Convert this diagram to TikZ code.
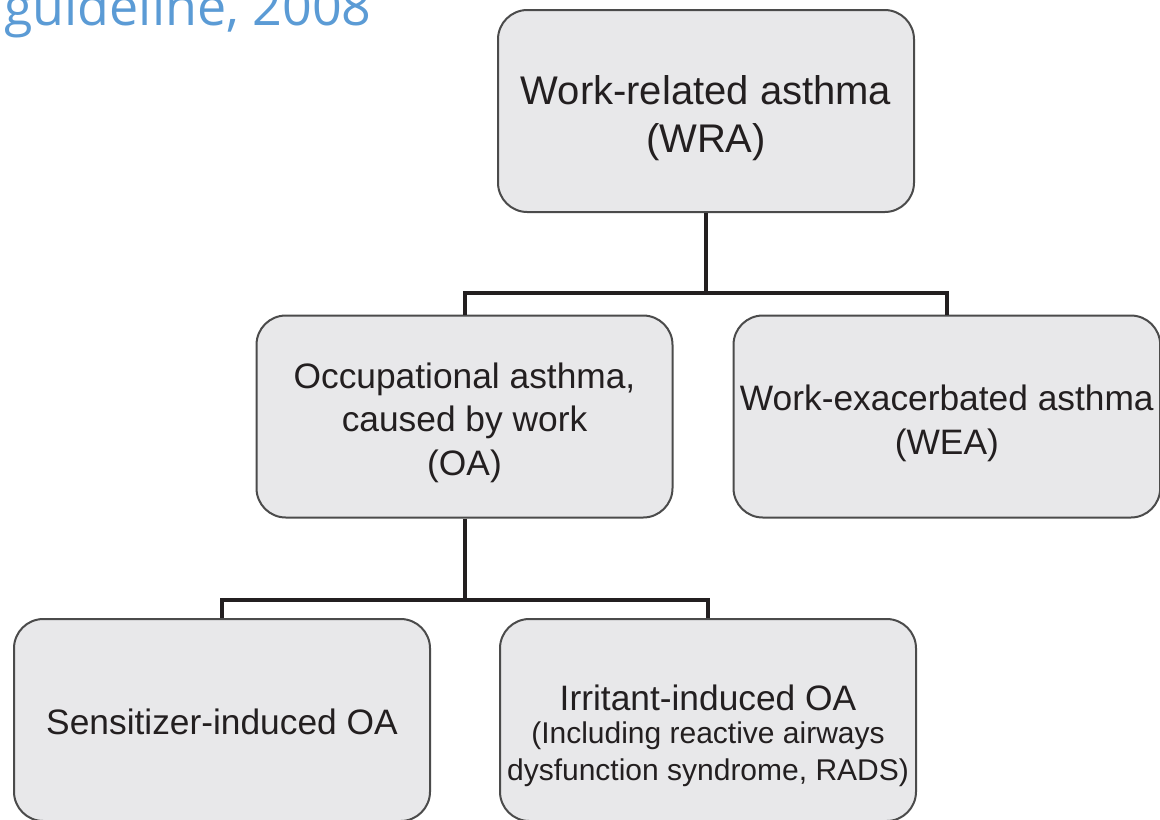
\documentclass[tikz,border=0pt]{standalone}
\usepackage{fontspec}
\setmainfont{Liberation Sans}
\newfontfamily\headfont{Open Sans}
\usetikzlibrary{positioning}
\definecolor{boxfill}{RGB}{232,232,234}
\definecolor{boxline}{RGB}{75,75,75}
\definecolor{headblue}{RGB}{91,155,213}
\definecolor{inkdark}{RGB}{35,31,32}
\newcommand{\lift}[1]{\rule{0pt}{#1}}

\begin{document}
\begin{tikzpicture}[%
        x=0.75pt, y=-0.75pt,
        every node/.style={inner sep=0pt, align=center, text=inkdark},
        box/.style={draw=boxline, line width=1.5pt, fill=boxfill, rounded corners=22pt,
                    minimum width=312pt, minimum height=151.5pt},
        link/.style={draw=inkdark, line width=3pt},
        big/.style={font=\fontsize{30}{36}\selectfont},
        mid/.style={font=\fontsize{26.5}{32.5}\selectfont},
        small/.style={font=\fontsize{22.5}{28}\selectfont}
      ]
      \useasboundingbox (0,0) rectangle (1160,819);
      \clip (0,0) rectangle (1160,819);
      \node [anchor=base west, text=headblue, font=\headfont\fontsize{39}{42}\selectfont] (head) at (4,25) {guideline, 2008};
      % top level
      \node [box, big] (wra) at (706,111) {\lift{32pt}Work-related asthma\\(WRA)};
      % second level
      \node [box, mid] (oa) at (464.5,416.5) {\lift{28.5pt}Occupational asthma,\\caused by work\\(OA)};
      \node [box, mid, minimum width=320pt, right=44.25pt of oa] (wea) {\lift{29.5pt}Work-exacerbated asthma\\(WEA)};
      % third level
      \node [box, mid] (sens) at (222,720) {\lift{22.5pt}Sensitizer-induced OA};
      \node [box, small, right=51pt of sens] (irr) {\lift{43pt}{\fontsize{26.5}{28}\selectfont Irritant-induced OA}\\[-3pt]
        (Including reactive airways\\
        dysfunction syndrome, RADS)};
      % connectors
      \coordinate (j1) at (wra.south |- 0,293);
      \coordinate (j2) at (oa.south |- 0,600);
      \draw [link] (wra.south) -- (j1);
      \draw [link] (oa.north) |- (j1) -| (wea.north);
      \draw [link] (oa.south) -- (j2);
      \draw [link] (sens.north) |- (j2) -| (irr.north);
    \end{tikzpicture}
\end{document}
